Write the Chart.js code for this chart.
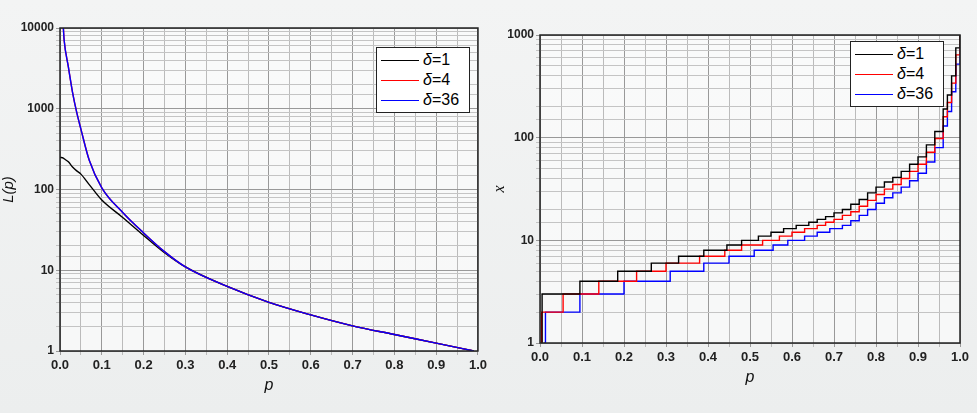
<!DOCTYPE html>
<html>
<head>
<meta charset="utf-8">
<script src="https://cdn.jsdelivr.net/npm/chart.js@4"></script>
<style>
  body { margin: 0; width: 977px; height: 413px; overflow: hidden;
         background: linear-gradient(#f3f4f4, #eceeee); font-family: "Liberation Sans", Arial, sans-serif; }
  .wrap { position: absolute; top: 0; height: 413px; }
  .legend { position: absolute; border: 1.5px solid #222; background: #fff; font-size: 16px;
            padding: 2px 4px; line-height: 20px; }
  .legend div { display: flex; align-items: center; }
  .legend span.l { display: inline-block; width: 38px; height: 0; border-top: 1.5px solid; margin-right: 4px; }
  .legend i { font-style: italic; }
</style>
</head>
<body>
<div class="wrap" style="left:0;width:490px"><canvas id="left"></canvas></div>
<div class="wrap" style="left:490px;width:487px"><canvas id="right"></canvas></div>
<div class="legend" style="left:376px;top:47px;width:84px">
  <div><span class="l" style="border-color:#000"></span><i>δ</i>=1</div>
  <div><span class="l" style="border-color:#f00"></span><i>δ</i>=4</div>
  <div><span class="l" style="border-color:#00f"></span><i>δ</i>=36</div>
</div>
<div class="legend" style="left:850px;top:41px;width:84px">
  <div><span class="l" style="border-color:#000"></span><i>δ</i>=1</div>
  <div><span class="l" style="border-color:#f00"></span><i>δ</i>=4</div>
  <div><span class="l" style="border-color:#00f"></span><i>δ</i>=36</div>
</div>
<script>
// left panel: L(p)
const pLeft = [0, 0.008, 0.01, 0.02, 0.03, 0.04, 0.05, 0.07, 0.1, 0.15, 0.2, 0.25, 0.3, 0.4, 0.5, 0.6, 0.7, 0.8, 0.9, 0.99];
const L_d1  = [250, 245, 240, 220, 190, 170, 155, 115, 74, 45, 27, 16.5, 11, 6.3, 4.0, 2.8, 2.05, 1.6, 1.25, 1.0];
const L_d4  = [null, 10000, 7000, 3300, 1600, 900, 560, 230, 105, 52, 29, 17, 11, 6.3, 4.0, 2.8, 2.05, 1.6, 1.25, 1.0];
const L_d36 = [null, 10000, 7000, 3300, 1600, 900, 560, 230, 105, 52, 29, 17, 11, 6.3, 4.0, 2.8, 2.05, 1.6, 1.25, 1.0];

// right panel: x(p), step starts
const pX_d1  = [0.004, 0.005, 0.095, 0.185, 0.265, 0.33, 0.39, 0.445, 0.48, 0.52, 0.55, 0.58, 0.61, 0.64, 0.66, 0.68, 0.7, 0.72, 0.74, 0.76, 0.78, 0.8, 0.82, 0.84, 0.86, 0.88, 0.9, 0.92, 0.94, 0.96, 0.97, 0.98, 0.99, 1.0];
const X_d1   = [1, 3, 4, 5, 6, 7, 8, 9, 10, 11, 12, 13, 14, 15, 16, 17, 18.5, 20, 22.5, 25, 29, 33, 37, 41, 47, 55, 65, 85, 115, 190, 260, 400, 750, 1000];
const pX_d4  = [0.003, 0.004, 0.055, 0.14, 0.23, 0.30, 0.38, 0.44, 0.48, 0.53, 0.57, 0.6, 0.63, 0.66, 0.68, 0.7, 0.72, 0.74, 0.76, 0.78, 0.8, 0.82, 0.84, 0.86, 0.88, 0.9, 0.92, 0.94, 0.96, 0.97, 0.98, 0.99, 1.0];
const X_d4   = [1, 2, 3, 4, 5, 6, 7, 8, 9, 10, 11, 12, 13, 14, 15, 16, 17.5, 19, 21.5, 24.5, 28, 31.5, 35, 40, 47, 55, 72, 98, 160, 220, 340, 640, 1000];
const pX_d36 = [0.01, 0.013, 0.095, 0.2, 0.31, 0.39, 0.45, 0.51, 0.555, 0.59, 0.63, 0.66, 0.69, 0.72, 0.74, 0.76, 0.78, 0.8, 0.82, 0.84, 0.86, 0.88, 0.9, 0.92, 0.94, 0.96, 0.97, 0.98, 0.99, 1.0];
const X_d36  = [1, 2, 3, 4, 5, 6, 7, 8, 9, 10, 11, 12, 13, 14, 15.5, 17.5, 20, 23, 26, 29, 33, 38, 45, 58, 80, 130, 180, 280, 520, 800];

Chart.defaults.font.family = '"Liberation Sans", Arial, sans-serif';
Chart.defaults.color = '#111';

function isDecade(v) { const l = Math.log10(v); return Math.abs(l - Math.round(l)) < 1e-9; }

const frame = {
  id: 'frame',
  beforeDraw(c) {
    const a = c.chartArea, x = c.ctx;
    x.save(); x.fillStyle = 'rgba(255,255,255,0.55)';
    x.fillRect(a.left, a.top, a.right - a.left, a.bottom - a.top); x.restore();
  },
  afterDraw(c) {
    const a = c.chartArea, x = c.ctx;
    x.save(); x.strokeStyle = '#222'; x.lineWidth = 1.5;
    x.strokeRect(a.left, a.top, a.right - a.left, a.bottom - a.top); x.restore();
  }
};

function toXY(px, py) { return px.map((v, i) => ({ x: v, y: py[i] })); }

function makeOpts(yMin, yMax, yTitle, yFont, yW, xH, pad) {
  return {
    responsive: true, maintainAspectRatio: false, animation: false,
    layout: { padding: pad },
    plugins: { legend: { display: false }, tooltip: { enabled: false } },
    elements: { point: { radius: 0 }, line: { borderWidth: 1.4 } },
    scales: {
      x: {
        type: 'linear', min: 0, max: 1,
        afterFit: s => { s.height = xH; },
        afterBuildTicks: s => { const t = []; for (let i = 0; i <= 20; i++) t.push({ value: i / 20 }); s.ticks = t; },
        ticks: { autoSkip: false, maxRotation: 0, font: { size: 13, weight: 'bold' }, color: '#222',
                 callback: v => (Math.round(v * 100) % 10 === 0 ? v.toFixed(1) : '') },
        grid: { color: c => (Math.round(c.tick.value * 100) % 10 === 0 ? '#999' : '#bbb'), lineWidth: 1, tickLength: 4 },
        border: { display: false },
        title: { display: true, text: 'p', font: { size: 16, style: 'italic' }, padding: 0 }
      },
      y: {
        type: 'logarithmic', min: yMin, max: yMax,
        afterFit: s => { s.width = yW; },
        ticks: { autoSkip: false, font: { size: 12, weight: 'bold' }, color: '#222', padding: 2,
                 callback: v => (isDecade(v) ? String(v) : '') },
        grid: { color: c => (isDecade(c.tick.value) ? '#999' : '#c4c4c4'), lineWidth: 1, tickLength: 4 },
        border: { display: false },
        title: { display: true, text: yTitle, font: yFont, padding: 0 }
      }
    }
  };
}

new Chart(document.getElementById('left'), {
  type: 'line',
  data: {
    datasets: [
      { label: 'δ=1', data: toXY(pLeft, L_d1), borderColor: '#000', cubicInterpolationMode: 'monotone', order: 3 },
      { label: 'δ=4', data: toXY(pLeft, L_d4), borderColor: '#f00', cubicInterpolationMode: 'monotone', order: 2 },
      { label: 'δ=36', data: toXY(pLeft, L_d36), borderColor: '#00f', cubicInterpolationMode: 'monotone', order: 1 }
    ]
  },
  options: makeOpts(1, 10000, 'L(p)', { size: 15, style: 'italic' }, 60, 44, { top: 28, right: 5, bottom: 18 }),
  plugins: [frame]
});

new Chart(document.getElementById('right'), {
  type: 'line',
  data: {
    datasets: [
      { label: 'δ=1', data: toXY(pX_d1, X_d1), borderColor: '#000', stepped: 'before' },
      { label: 'δ=4', data: toXY(pX_d4, X_d4), borderColor: '#f00', stepped: 'before' },
      { label: 'δ=36', data: toXY(pX_d36, X_d36), borderColor: '#00f', stepped: 'before' }
    ]
  },
  options: makeOpts(1, 1000, 'x', { size: 16, style: 'italic', family: '"Liberation Serif", serif' }, 50, 44, { top: 35, right: 17, bottom: 26 }),
  plugins: [frame]
});
</script>
</body>
</html>
